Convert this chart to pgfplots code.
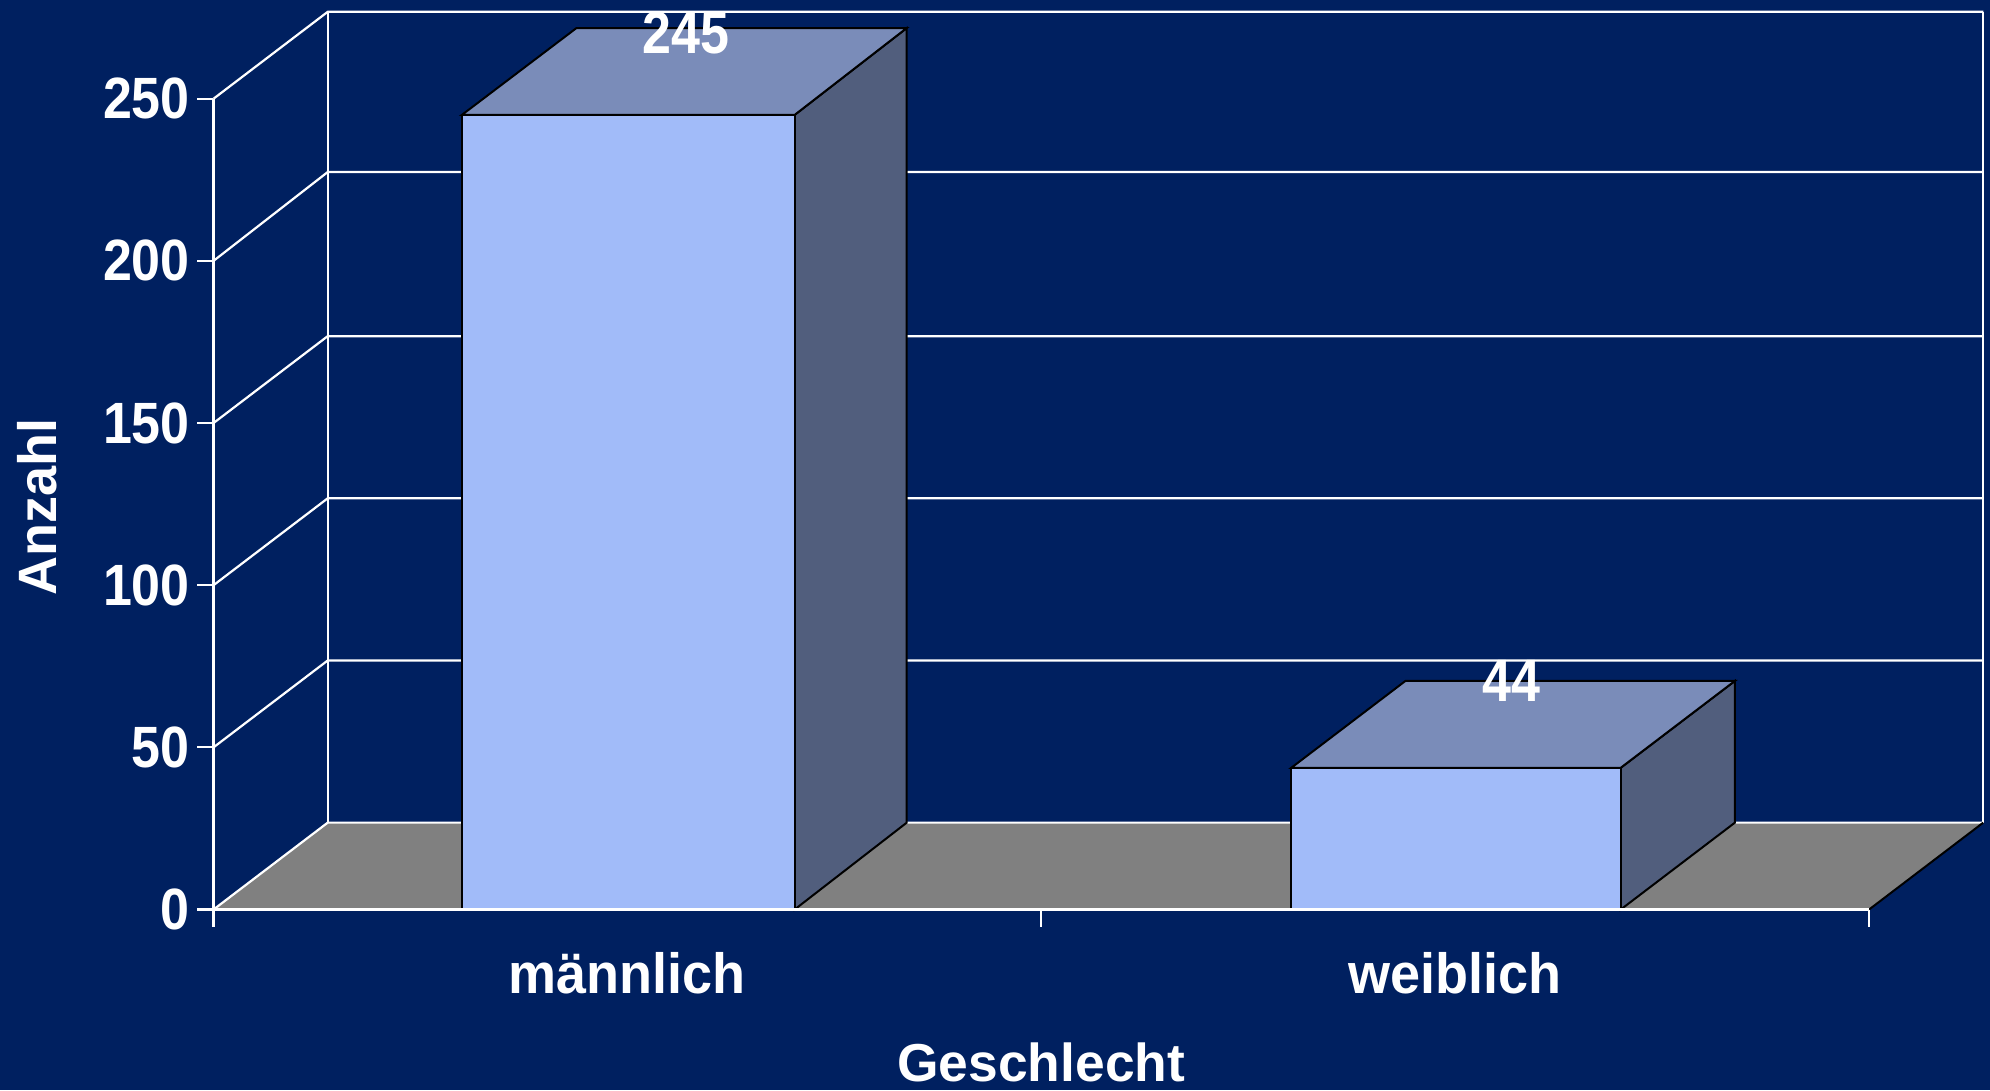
\documentclass[border=0pt]{standalone}
\usepackage{fontspec}
\setmainfont{Liberation Sans}
\usepackage{pgfplots}
\pgfplotsset{compat=1.18}

\definecolor{bg}{HTML}{002060}
\definecolor{front}{HTML}{A1BBF9}
\definecolor{topface}{HTML}{7A8CB9}
\definecolor{sideface}{HTML}{515E7D}
\definecolor{floorc}{HTML}{808080}

\newcommand{\lab}{\fontsize{27}{30}\selectfont\bfseries}
\newcommand{\num}{\fontsize{26}{30}\selectfont\bfseries}

\begin{document}
\begin{tikzpicture}
\begin{axis}[
    scale only axis,
    width=827.75pt, height=405.4pt,
    xmin=0, xmax=2, ymin=0, ymax=250,
    clip=false,
    axis on top,
    axis x line*=bottom,
    axis y line*=left,
    x axis line style={white, line width=1.4pt, -},
    y axis line style={white, line width=1.1pt, -},
    xtick={0.5,1.5},
    xticklabels={männlich,weiblich},
    ytick={0,50,100,150,200,250},
    /pgf/number format/assume math mode=true,
    major x tick style={draw=none},
    major y tick style={white, line width=1.1pt},
    tick align=outside,
    major tick length=8pt,
    every tick label/.append style={white},
    yticklabel style={font=\num, yscale=1.12, xshift=-0.3pt},
    xticklabel style={font=\lab, yscale=1.05, yshift=-9.2pt},
    xlabel={Geschlecht},
    ylabel={Anzahl},
    xlabel style={white, font=\fontsize{26.7}{30}\selectfont\bfseries, at={(axis description cs:0.5,-0.188)}, anchor=center},
    ylabel style={white, font=\lab, at={(axis description cs:-0.1065,0.4965)}, anchor=center},
]
% background
\addplot[draw=none, fill=bg] coordinates {(-0.25792,-55.66) (2.14618,-55.66) (2.14618,280.45) (-0.25792,280.45)} --cycle;

% back wall and side wall gridlines
\addplot[white, line width=1.1pt] coordinates {(0,50) (0.138,76.8) (2.138,76.8)};
\addplot[white, line width=1.1pt] coordinates {(0,100) (0.138,126.8) (2.138,126.8)};
\addplot[white, line width=1.1pt] coordinates {(0,150) (0.138,176.8) (2.138,176.8)};
\addplot[white, line width=1.1pt] coordinates {(0,200) (0.138,227.4) (2.138,227.4)};
\addplot[white, line width=1.1pt] coordinates {(0,250) (0.138,276.8) (2.138,276.8)};
\addplot[white, line width=1.1pt] coordinates {(0.138,26.8) (0.138,276.8)};
\addplot[white, line width=1.1pt] coordinates {(2.138,26.8) (2.138,276.8)};

% floor
\addplot[draw=none, fill=floorc] coordinates {(0,0) (2,0) (2.138,26.8) (0.138,26.8)} --cycle;
\addplot[white, line width=1.1pt] coordinates {(0,0) (0.138,26.8) (2.138,26.8)};
\addplot[black, line width=1pt] coordinates {(2,0) (2.138,26.8)};

% x tick marks
\addplot[white, line width=1.1pt] coordinates {(0,0) (0,-5.3)};
\addplot[white, line width=1.1pt] coordinates {(1,0) (1,-5.3)};
\addplot[white, line width=1.1pt] coordinates {(2,0) (2,-5.3)};

% bar maennlich = 245
\addplot[black, line width=1pt, fill=sideface] coordinates {(0.702,0) (0.8375,26.8) (0.8375,271.8) (0.702,245)} --cycle;
\addplot[black, line width=1pt, fill=topface] coordinates {(0.300,245) (0.702,245) (0.8375,271.8) (0.4385,271.8)} --cycle;
\addplot[black, line width=1pt, fill=front] coordinates {(0.300,0) (0.702,0) (0.702,245) (0.300,245)} --cycle;

% bar weiblich = 44
\addplot[black, line width=1pt, fill=sideface] coordinates {(1.700,0) (1.838,26.8) (1.838,70.5) (1.700,43.7)} --cycle;
\addplot[black, line width=1pt, fill=topface] coordinates {(1.302,43.7) (1.700,43.7) (1.838,70.5) (1.440,70.5)} --cycle;
\addplot[black, line width=1pt, fill=front] coordinates {(1.302,0) (1.700,0) (1.700,43.7) (1.302,43.7)} --cycle;

% value labels
\addplot[draw=none, point meta=explicit,
    nodes near coords,
    nodes near coords align={anchor=center},
    every node near coord/.append style={white, font=\num, yscale=1.15, inner sep=0pt}]
  coordinates {(0.5705,270.3) [245] (1.5675,70.6) [44]};
\end{axis}
\end{tikzpicture}
\end{document}
